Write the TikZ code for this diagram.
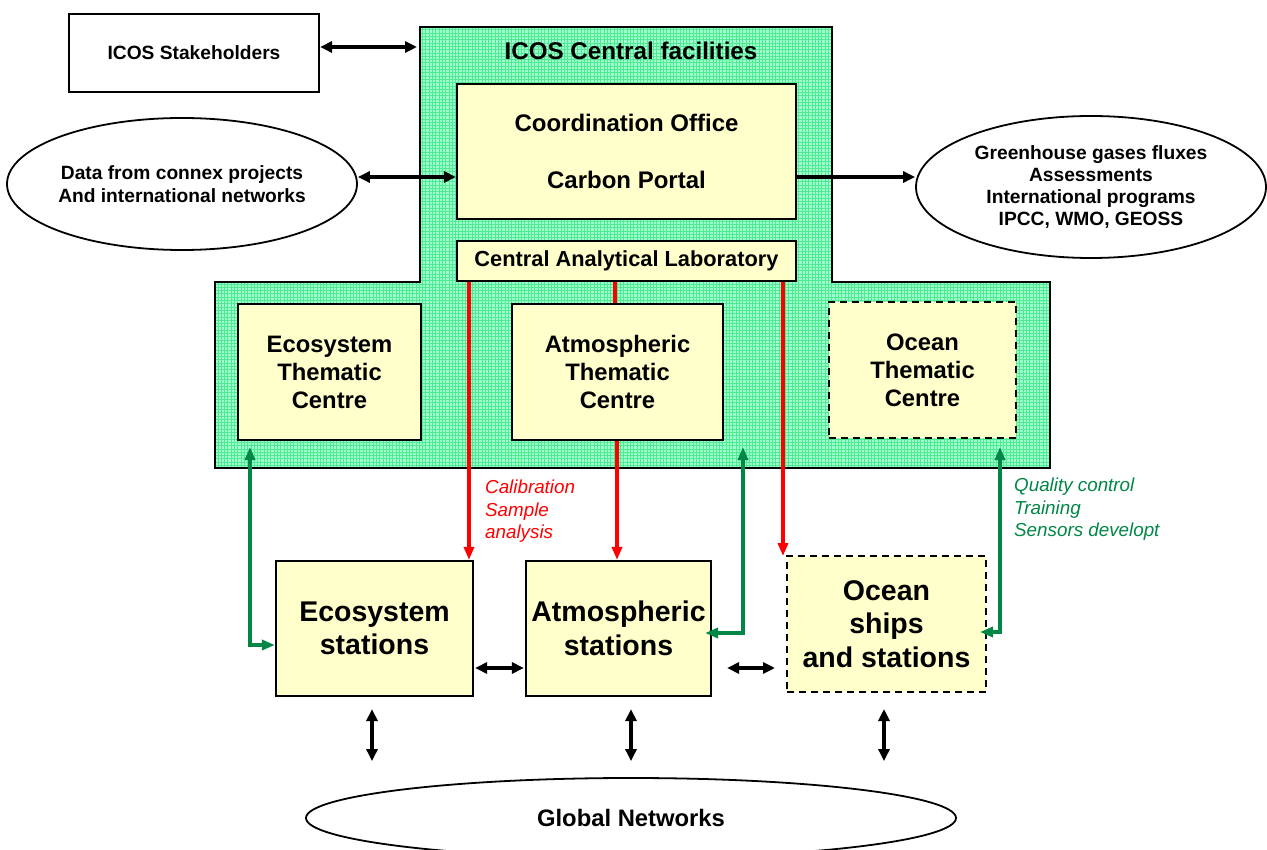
\documentclass[tikz,border=0pt]{standalone}
\usepackage{fontspec}
\setmainfont{Liberation Sans}
\usetikzlibrary{arrows.meta,shapes.geometric}
\definecolor{boxfill}{RGB}{255,255,204}
\definecolor{mint}{RGB}{160,255,208}
\definecolor{mintline}{RGB}{80,235,145}
\definecolor{qcgreen}{RGB}{0,135,70}
\definecolor{calred}{RGB}{255,0,0}
\begin{document}
\begin{tikzpicture}[x=1pt,y=-1pt,
  box/.style={draw=black, line width=2.2pt, fill=boxfill, align=center, inner sep=0pt},
  dashbox/.style={box, line width=2pt, dash pattern=on 7pt off 5pt},
  oval/.style={draw, ellipse, line width=1.8pt, fill=white, align=center, inner sep=0pt},
  blk/.style={line width=3.4pt, {Triangle[length=12pt,width=11pt]}-{Triangle[length=12pt,width=11pt]}},
  redarr/.style={draw=calred, line width=3.4pt, -{Triangle[length=13pt,width=10pt]}},
  redline/.style={draw=calred, line width=3.4pt},
  grnarr/.style={draw=qcgreen, line width=3.4pt, line join=miter,
    {Triangle[length=13pt,width=10pt]}-{Triangle[length=13pt,width=10pt]}},
  fsmall/.style={font=\bfseries\fontsize{19.2}{22.3}\selectfont},
  fmid/.style={font=\bfseries\fontsize{23.8}{28}\selectfont},
  fbig/.style={font=\bfseries\fontsize{28.5}{33.5}\selectfont},
  note/.style={anchor=west, align=left, inner sep=0pt, font=\itshape\fontsize{18.8}{22.5}\selectfont},
]
\fill[white] (0,0) rectangle (1267,850);
\useasboundingbox (0,0) rectangle (1267,850);

% central facilities area with its fine grid
\def\cfarea{(420,27) -- (832,27) -- (832,282) -- (1050,282) -- (1050,468) -- (215,468) -- (215,282) -- (420,282) -- cycle}
\fill[mint] \cfarea;
\begin{scope}
  \clip \cfarea;
  \draw[mintline, line width=0.45pt, step=3.3pt] (210,20) grid (1060,475);
\end{scope}
\draw[line width=2.2pt] \cfarea;
\node[font=\bfseries\fontsize{24.2}{28}\selectfont] (cftitle) at (631,51) {ICOS Central facilities};
\coordinate (cfL) at (417,47);

% boxes
\node[box, fill=white, minimum width=250pt, minimum height=78pt, fsmall] (stake) at (194,53) {ICOS Stakeholders};
\node[box, minimum width=339pt, minimum height=135pt, font=\bfseries\fontsize{24}{28}\selectfont] (co) at (626.5,151.5) {Coordination Office\\[29pt]Carbon Portal};
\node[box, minimum width=339pt, minimum height=40pt, font=\bfseries\fontsize{21.8}{26}\selectfont] (cal) at (626.5,261) {Central Analytical Laboratory};
\node[box, minimum width=183pt, minimum height=136pt, fmid] (etc) at (329.5,372) {Ecosystem\\Thematic\\Centre};
\node[box, minimum width=211pt, minimum height=136pt, fmid] (atc) at (617.5,372) {Atmospheric\\Thematic\\Centre};
\node[dashbox, minimum width=187pt, minimum height=136pt, fmid] (otc) at (922.5,370) {Ocean\\Thematic\\Centre};
\node[box, minimum width=197pt, minimum height=135pt, fbig] (ecs) at (374.5,628.5) {Ecosystem\\stations};
\node[box, minimum width=185pt, minimum height=135pt, fbig] (ats) at (618.5,628.5) {Atmospheric\\stations};
\node[dashbox, minimum width=199pt, minimum height=136pt, fbig] (ocs) at (886.5,624) {Ocean\\ships\\and stations};

% ellipses
\node[oval, minimum width=346pt, minimum height=132pt, fsmall] (data) at (182,184) {Data from connex projects\\And international networks};
\node[oval, minimum width=350pt, minimum height=142pt, fsmall] (goals) at (1091,187) {Greenhouse gases fluxes\\Assessments\\International programs\\IPCC, WMO, GEOSS};
\node[oval, minimum width=650pt, minimum height=80pt, fmid] (glob) at (631,818) {Global Networks};

% helper positions
\coordinate (y177) at (0,177);
\coordinate (y668) at (0,668);
\coordinate (r1) at (469,0);
\coordinate (r2) at (615,0);
\coordinate (r2b) at (617,0);
\coordinate (r3) at (783,0);
\coordinate (v1) at (372,0);
\coordinate (v2) at (631,0);
\coordinate (v3) at (884,0);

% black links
\draw[blk] ([yshift=6pt]stake.east) -- (cfL);
\draw[blk] ([yshift=7pt]data.east) -- (co.west |- y177);
\draw[line width=3.4pt, -{Triangle[length=12pt,width=11pt]}] (co.east |- y177) -- (goals.west |- y177);
\draw[blk, shorten <=1pt, shorten >=1pt] (ecs.east |- y668) -- (ats.west |- y668);
\draw[blk, shorten <=15pt, shorten >=11pt] (ats.east |- y668) -- (ocs.west |- y668);
\draw[blk, shorten <=12pt, shorten >=16pt] (ecs.south -| v1) -- (glob.north -| v1);
\draw[blk, shorten <=12pt, shorten >=16pt] (ats.south -| v2) -- (glob.north -| v2);
\draw[blk, shorten <=16pt, shorten >=16pt] (ocs.south -| v3) -- (glob.north -| v3);

% calibration links
\draw[redarr] (cal.south -| r1) -- (ecs.north -| r1);
\draw[redline] (cal.south -| r2) -- (atc.north -| r2);
\draw[redarr] (atc.south -| r2b) -- (ats.north -| r2b);
\draw[redarr, shorten >=-1pt] (cal.south -| r3) -- (ocs.north -| r3);
\node[note, text=calred] (callab) at (485,511.5) {Calibration\\Sample\\analysis};

% quality control links
\coordinate (g1) at (250,447);
\coordinate (g1c) at (250,645);
\coordinate (g2) at (743,447);
\coordinate (g2c) at (743,633);
\coordinate (g3) at (1000,447);
\coordinate (g3c) at (1000,632);
\draw[grnarr] (g1) -- (g1c) -- (ecs.west |- g1c);
\draw[grnarr, shorten >=-7pt] (g2) -- (g2c) -- (ats.east |- g2c);
\draw[grnarr, shorten >=-7pt] (g3) -- (g3c) -- (ocs.east |- g3c);
\node[note, text=qcgreen] (qclab) at (1014,509.5) {Quality control\\Training\\Sensors developt};
\end{tikzpicture}
\end{document}
